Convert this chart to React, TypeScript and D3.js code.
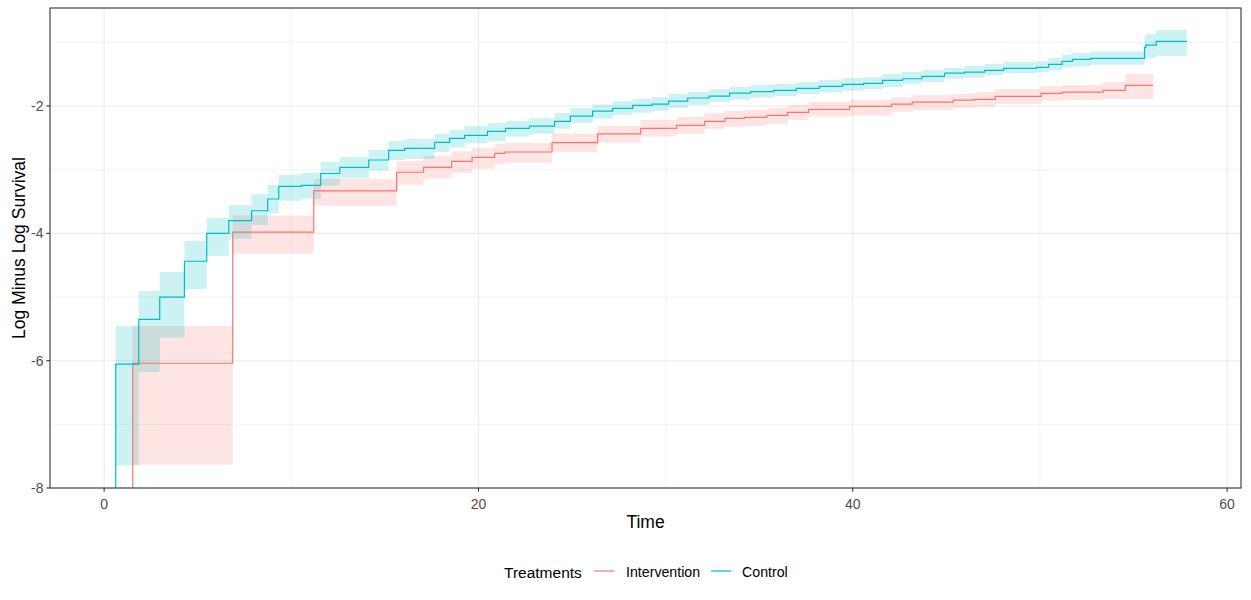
import * as d3 from 'd3';

// Control arm: step start times, estimate, confidence band
const controlTime = [0.62, 1.85, 2.97, 4.29, 5.48, 6.66, 7.88, 8.74, 9.33, 10.54, 11.57, 12.59, 14.14, 15.2, 16.06, 17.66, 18.46, 19.26, 20.48, 21.45, 22.72, 24.07, 24.91, 26.1, 27.17, 28.24, 29.27, 30.16, 31.18, 32.33, 33.42, 34.54, 35.77, 36.98, 38.21, 39.46, 40.58, 41.59, 42.66, 43.7, 44.9, 45.97, 47.04, 48.06, 49.82, 50.46, 51.18, 51.74, 52.7, 55.59, 55.66, 56.21];
const controlEnd = 57.85;
const controlEst = [-6.055, -5.35, -5.003, -4.438, -4.0, -3.8, -3.645, -3.46, -3.262, -3.245, -3.06, -2.963, -2.848, -2.696, -2.664, -2.57, -2.507, -2.46, -2.397, -2.35, -2.314, -2.24, -2.157, -2.08, -2.036, -1.99, -1.969, -1.922, -1.874, -1.843, -1.796, -1.775, -1.753, -1.722, -1.69, -1.659, -1.643, -1.597, -1.571, -1.534, -1.482, -1.466, -1.44, -1.408, -1.393, -1.346, -1.298, -1.267, -1.251, -1.078, -1.042, -0.984];
const controlUpper = [-5.454, -4.904, -4.606, -4.12, -3.758, -3.554, -3.387, -3.24, -3.083, -3.052, -2.88, -2.8, -2.69, -2.55, -2.518, -2.435, -2.377, -2.314, -2.267, -2.235, -2.193, -2.11, -2.026, -1.974, -1.926, -1.89, -1.863, -1.81, -1.78, -1.738, -1.7, -1.67, -1.655, -1.623, -1.592, -1.56, -1.545, -1.498, -1.466, -1.435, -1.403, -1.372, -1.34, -1.309, -1.298, -1.246, -1.194, -1.168, -1.141, -0.91, -0.87, -0.807];
const controlLower = [-7.647, -6.176, -5.637, -4.873, -4.35, -4.083, -3.868, -3.69, -3.487, -3.455, -3.25, -3.14, -3.015, -2.848, -2.83, -2.722, -2.65, -2.586, -2.554, -2.48, -2.435, -2.356, -2.262, -2.2, -2.14, -2.105, -2.074, -2.03, -1.98, -1.932, -1.9, -1.87, -1.848, -1.816, -1.785, -1.76, -1.733, -1.7, -1.65, -1.623, -1.571, -1.55, -1.518, -1.482, -1.471, -1.44, -1.398, -1.377, -1.352, -1.24, -1.24, -1.21];

// Intervention arm
const interventionTime = [1.53, 6.87, 11.2, 15.63, 17.07, 18.57, 19.66, 20.87, 21.42, 23.93, 26.37, 28.66, 30.59, 32.08, 33.17, 34.22, 35.41, 36.52, 37.64, 39.83, 42.07, 43.18, 45.37, 46.5, 47.61, 50.07, 51.19, 53.38, 54.56];
const interventionEnd = 56.05;
const interventionEst = [-6.04, -3.98, -3.334, -3.04, -2.963, -2.87, -2.806, -2.743, -2.722, -2.576, -2.437, -2.35, -2.303, -2.24, -2.193, -2.177, -2.146, -2.099, -2.052, -2.005, -1.971, -1.937, -1.906, -1.895, -1.848, -1.8, -1.78, -1.753, -1.675];
const interventionUpper = [-5.454, -3.72, -3.146, -2.863, -2.785, -2.712, -2.66, -2.597, -2.576, -2.43, -2.314, -2.22, -2.173, -2.11, -2.074, -2.063, -2.026, -1.984, -1.937, -1.9, -1.86, -1.827, -1.81, -1.78, -1.733, -1.686, -1.67, -1.623, -1.498];
const interventionLower = [-7.636, -4.32, -3.565, -3.235, -3.14, -3.047, -2.984, -2.916, -2.89, -2.722, -2.576, -2.48, -2.434, -2.36, -2.324, -2.309, -2.278, -2.22, -2.168, -2.152, -2.094, -2.063, -2.03, -2.01, -1.969, -1.917, -1.906, -1.89, -1.89];

const xTicks = [0, 20, 40, 60];
const xMinor = [10, 30, 50];
const yTicks = [-8, -6, -4, -2];
const yMinor = [-7, -5, -3, -1];
const yLimits = [-8, -0.46];

const legendTitle = 'Treatments';
const groups = ['Intervention', 'Control'];
const colors = ['#F8766D', '#00BFC4'];

const W = 1251;
const H = 600;
const margin = { top: 8, right: 10, bottom: 112, left: 50 };
const FONT = '"Liberation Sans", Arial, sans-serif';

type Band = { t: number; lo: number; hi: number };

export default function App() {
  const left = margin.left;
  const right = W - margin.right;
  const top = margin.top;
  const bottom = H - margin.bottom;

  const xMax = controlEnd;
  const pad = xMax * 0.05;
  const x = d3.scaleLinear().domain([0 - pad, xMax + pad]).range([left, right]);
  const y = d3.scaleLinear().domain(yLimits).range([bottom, top]);
  const yc = (v: number) => y(Math.max(v, yLimits[0]));

  const line = d3
    .line<[number, number]>()
    .x(d => x(d[0]))
    .y(d => yc(d[1]))
    .curve(d3.curveStepAfter);

  const area = d3
    .area<Band>()
    .x(d => x(d.t))
    .y0(d => yc(d.lo))
    .y1(d => yc(d.hi))
    .curve(d3.curveStepAfter);

  const series = [
    { time: interventionTime, end: interventionEnd, est: interventionEst, lo: interventionLower, hi: interventionUpper },
    { time: controlTime, end: controlEnd, est: controlEst, lo: controlLower, hi: controlUpper },
  ].map((s, gi) => {
    const n = s.time.length;
    const pts: [number, number][] = [[s.time[0], yLimits[0]]];
    s.time.forEach((t, i) => pts.push([t, s.est[i]]));
    pts.push([s.end, s.est[n - 1]]);
    const band: Band[] = s.time.map((t, i) => ({ t, lo: s.lo[i], hi: s.hi[i] }));
    band.push({ t: s.end, lo: s.lo[n - 1], hi: s.hi[n - 1] });
    return { color: colors[gi], line: line(pts) || '', area: area(band) || '' };
  });

  const legendY = 571;
  const legendItems = [
    { keyX: 594, textX: 626 },
    { keyX: 711, textX: 742 },
  ];

  return (
    <svg
      width={W}
      height={H}
      style={{ position: 'absolute', left: 0, top: 0, background: '#fff', display: 'block' }}
      fontFamily={FONT}
    >
      <defs>
        <clipPath id="panel">
          <rect x={left} y={top} width={right - left} height={bottom - top} />
        </clipPath>
      </defs>
      <rect x={0} y={0} width={W} height={H} fill="#fff" />

      {/* grid */}
      <g>
        {xMinor.map(v => (
          <line key={'xm' + v} x1={x(v)} x2={x(v)} y1={top} y2={bottom} stroke="#EBEBEB" strokeWidth={0.6} />
        ))}
        {yMinor.map(v => (
          <line key={'ym' + v} x1={left} x2={right} y1={y(v)} y2={y(v)} stroke="#EBEBEB" strokeWidth={0.6} />
        ))}
        {xTicks.map(v => (
          <line key={'xg' + v} x1={x(v)} x2={x(v)} y1={top} y2={bottom} stroke="#EBEBEB" strokeWidth={1.1} />
        ))}
        {yTicks.map(v => (
          <line key={'yg' + v} x1={left} x2={right} y1={y(v)} y2={y(v)} stroke="#EBEBEB" strokeWidth={1.1} />
        ))}
      </g>

      <g clipPath="url(#panel)">
        {series.map((s, i) => (
          <path key={'a' + i} d={s.area} fill={s.color} fillOpacity={0.2} />
        ))}
        {series.map((s, i) => (
          <path key={'l' + i} d={s.line} fill="none" stroke={s.color} strokeWidth={1.2} />
        ))}
      </g>

      <rect x={left} y={top} width={right - left} height={bottom - top} fill="none" stroke="#333333" strokeWidth={1.1} />

      {/* axes */}
      {xTicks.map(v => (
        <g key={'xt' + v}>
          <line x1={x(v)} x2={x(v)} y1={bottom} y2={bottom + 3.7} stroke="#333333" strokeWidth={1.1} />
          <text x={x(v)} y={508.5} textAnchor="middle" fontSize={14} fill="#4D4D4D">
            {v}
          </text>
        </g>
      ))}
      {yTicks.map(v => (
        <g key={'yt' + v}>
          <line x1={left - 3.7} x2={left} y1={y(v)} y2={y(v)} stroke="#333333" strokeWidth={1.1} />
          <text x={43.5} y={y(v)} dy="0.36em" textAnchor="end" fontSize={14} fill="#4D4D4D">
            {v}
          </text>
        </g>
      ))}

      <text x={(left + right) / 2} y={528} textAnchor="middle" fontSize={17.5} fill="#000">
        Time
      </text>
      <text
        transform={`translate(25,${(top + bottom) / 2}) rotate(-90)`}
        textAnchor="middle"
        fontSize={17.5}
        fill="#000"
      >
        Log Minus Log Survival
      </text>

      {/* legend */}
      <text x={504} y={577.5} fontSize={15.5} fill="#000">
        {legendTitle}
      </text>
      {legendItems.map((it, i) => (
        <g key={'lg' + i}>
          <line x1={it.keyX} x2={it.keyX + 20.5} y1={legendY} y2={legendY} stroke={colors[i]} strokeWidth={1.2} />
          <text x={it.textX} y={576.5} fontSize={14.2} fill="#000">
            {groups[i]}
          </text>
        </g>
      ))}
    </svg>
  );
}
